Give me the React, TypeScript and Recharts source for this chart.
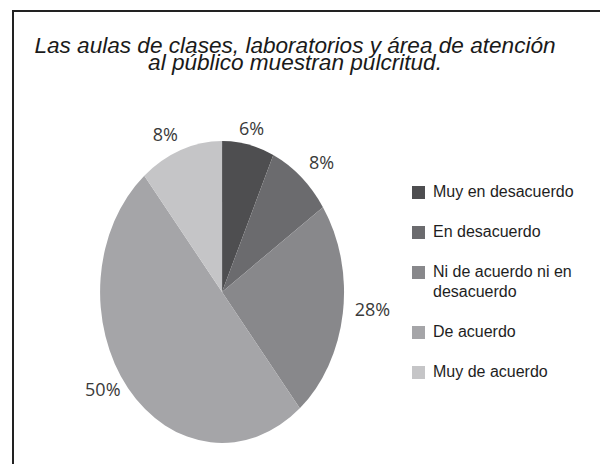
import { PieChart, Pie, Cell, Legend } from 'recharts'

// slice shares as drawn (the printed percentages below are what the source shows)
const categories = [
  'Muy en desacuerdo',
  'En desacuerdo',
  'Ni de acuerdo ni en desacuerdo',
  'De acuerdo',
  'Muy de acuerdo',
]
const shares = [6.9, 8.6, 23.5, 50.0, 11.0]
const percentLabels = ['6%', '8%', '28%', '50%', '8%']
const colors = ['#4e4e50', '#6b6b6e', '#88888b', '#a5a5a8', '#c5c5c7']

const title = [
  'Las aulas de clases, laboratorios y área de atención',
  'al público muestran pulcritud.',
]

const data = categories.map((name, i) => ({ name, value: shares[i], label: percentLabels[i] }))

const CX = 218
const CY = 287
const R = 151
const SX = 122 / 151 // pie is drawn as a tall ellipse

function renderLabel(props: any) {
  const { cx, cy, midAngle, outerRadius, index } = props
  const a = (Math.PI / 180) * midAngle
  const cos = Math.cos(a)
  const sin = Math.sin(a)
  const off = 11
  const x = cx + outerRadius * SX * cos + off * cos
  const y = cy - outerRadius * sin - off * sin - 6
  const anchor = Math.abs(cos) < 0.3 ? 'middle' : cos > 0 ? 'start' : 'end'
  return (
    <text
      x={x}
      y={y}
      textAnchor={anchor}
      dominantBaseline="central"
      fill="#3a3a3a"
      fontSize={18}
      fontFamily="'Open Sans', sans-serif"
    >
      {percentLabels[index]}
    </text>
  )
}

function LegendList() {
  return (
    <div style={{ fontFamily: "'Liberation Sans', Arial, sans-serif", fontSize: 16, color: '#1e1e1e' }}>
      {categories.map((c, i) => (
        <div key={c} style={{ display: 'flex', alignItems: 'flex-start', lineHeight: '20px', marginBottom: 20 }}>
          <span
            style={{
              display: 'inline-block',
              width: 13,
              height: 13,
              marginTop: 4,
              marginRight: 8,
              background: colors[i],
              flex: 'none',
            }}
          />
          <span style={{ width: 160 }}>{c}</span>
        </div>
      ))}
    </div>
  )
}

export default function App() {
  return (
    <div style={{ position: 'relative', width: 600, height: 464, background: '#fff', overflow: 'hidden' }}>
      <style>{`
        body { margin: 0; }
        .recharts-pie-sector { transform-box: view-box; transform-origin: ${CX}px ${CY}px; transform: scaleX(${SX}); }
      `}</style>
      <div
        style={{
          position: 'absolute',
          left: 12,
          top: 10,
          width: 620,
          height: 480,
          borderLeft: '2px solid #222',
          borderTop: '2px solid #222',
        }}
      />
      <div
        style={{
          position: 'absolute',
          left: 0,
          top: 37,
          width: 590,
          textAlign: 'center',
          fontFamily: "'Liberation Sans', Arial, sans-serif",
          fontStyle: 'italic',
          fontSize: 22.6,
          lineHeight: '17px',
          color: '#1a1a1a',
        }}
      >
        {title.map((t) => (
          <div key={t}>{t}</div>
        ))}
      </div>
      <div style={{ position: 'absolute', left: 0, top: 0 }}>
        <PieChart width={600} height={464}>
          <Pie
            data={data}
            dataKey="value"
            nameKey="name"
            cx={CX}
            cy={CY}
            outerRadius={R}
            startAngle={90}
            endAngle={-270}
            stroke="none"
            label={renderLabel}
            labelLine={false}
            isAnimationActive={false}
          >
            {data.map((d, i) => (
              <Cell key={d.name} fill={colors[i]} />
            ))}
          </Pie>
          <Legend
            layout="vertical"
            align="right"
            verticalAlign="top"
            content={() => <LegendList />}
            wrapperStyle={{ left: 412, top: 182, width: 185 }}
          />
        </PieChart>
      </div>
    </div>
  )
}
